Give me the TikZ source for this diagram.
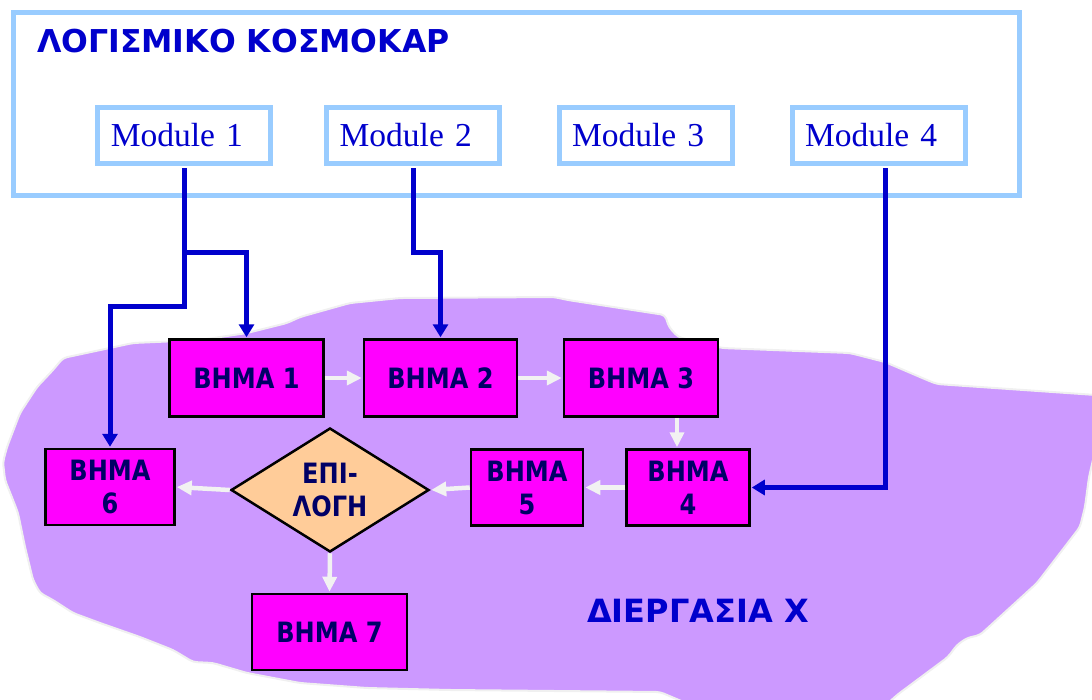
\documentclass[tikz,border=0pt]{standalone}
\usepackage{fontspec}
\setmainfont{Liberation Serif}
\newfontfamily\headfont{DejaVu Sans}
\newfontfamily\stepfont{DejaVu Sans Bold}[FakeStretch=0.86]
\usetikzlibrary{shapes.geometric,arrows.meta}

\definecolor{frameblue}{HTML}{99CCFF}
\definecolor{linkblue}{HTML}{0000CC}
\definecolor{blobfill}{HTML}{CC99FF}
\definecolor{blobedge}{HTML}{F0F0F0}
\definecolor{stepfill}{HTML}{FF00FF}
\definecolor{steptext}{HTML}{000066}
\definecolor{choicefill}{HTML}{FFCC99}
\definecolor{flowwhite}{HTML}{F2F2F2}

\tikzset{
  module/.style={draw=frameblue, line width=5pt, fill=white,
    minimum width=173pt, minimum height=55.5pt,
    text width=147pt, inner xsep=13pt, inner ysep=0pt, align=left,
    text=linkblue, font=\fontsize{33.5}{40}\selectfont},
  stepbox/.style={draw=black, line width=2.5pt, fill=stepfill,
    text=steptext, inner sep=0pt, align=center,
    font=\stepfont\fontsize{28}{33}\selectfont},
  choicebox/.style={diamond, draw=black, line width=2.5pt, fill=choicefill,
    text=steptext, inner sep=0pt, align=center, aspect=1.6,
    minimum width=198pt, minimum height=124pt,
    font=\stepfont\fontsize{28}{33}\selectfont},
  heading/.style={anchor=base west, inner sep=0pt, text=linkblue,
    font=\headfont\bfseries\fontsize{31.5}{36}\selectfont},
  link/.style={draw=linkblue, line width=5pt, shorten <=2.5pt, shorten >=1pt,
    -{Triangle[length=13pt,width=15pt]}},
  flow/.style={draw=flowwhite, line width=4.5pt, shorten >=1pt,
    -{Triangle[length=15pt,width=14pt]}}
}

\begin{document}
\begin{tikzpicture}[x=1pt,y=-1pt]
\useasboundingbox (0,0) rectangle (1092,699);

% software frame
\draw[frameblue, line width=5pt] (13,12.5) rectangle (1019.5,195.5);
\node[heading] (title) at (37,52) {ΛΟΓΙΣΜΙΚΟ ΚΟΣΜΟΚΑΡ};

% process area
\path[fill=blobfill, draw=blobedge, line width=2pt, rounded corners=4pt]
  (7,447) -- (20,413) -- (37,387) -- (53,370) -- (63,358) -- (133,343)
  -- (200,340) -- (247,333) -- (287,323) -- (300,317) -- (350,303)
  -- (400,298) -- (554,297) -- (568,300) -- (665,315) -- (669,327)
  -- (678,337) -- (722,348) -- (850,353) -- (885,362) -- (927,380)
  -- (937,384) -- (1096,395) -- (1096,447) -- (1089,477) -- (1085,507)
  -- (1080,527) -- (1037,583) -- (980,635) -- (967,638) -- (957,645)
  -- (948,657) -- (897,695) -- (885,706) -- (693,706) -- (660,692)
  -- (450,690) -- (367,688) -- (300,683) -- (247,673) -- (213,663)
  -- (193,662) -- (173,650) -- (140,637) -- (100,623) -- (73,613)
  -- (53,600) -- (40,593) -- (33,580) -- (25,547) -- (18,513)
  -- (13,500) -- (5,480) -- (3,462) -- cycle;
\node[heading, font=\headfont\bfseries\fontsize{32}{36}\selectfont]
  (proc) at (587,622) {ΔΙΕΡΓΑΣΙΑ Χ};

% modules
\node[module] (m1) at (184.3,135.3) {Module 1};
\node[module] (m2) at (413.2,135.3) {Module 2};
\node[module] (m3) at (645.6,135.3) {Module 3};
\node[module] (m4) at (878.5,135.3) {Module 4};

% steps
\node[stepbox, minimum width=154pt, minimum height=77pt] (b1) at (246.5,378) {ΒΗΜΑ 1};
\node[stepbox, minimum width=153pt, minimum height=77pt] (b2) at (440.5,378) {ΒΗΜΑ 2};
\node[stepbox, minimum width=154pt, minimum height=77pt] (b3) at (641,378) {ΒΗΜΑ 3};
\node[stepbox, minimum width=123pt, minimum height=76pt] (b4) at (688,487.5) {ΒΗΜΑ\\4};
\node[stepbox, minimum width=112pt, minimum height=76pt] (b5) at (527,487.5) {ΒΗΜΑ\\5};
\node[stepbox, minimum width=129pt, minimum height=76pt] (b6) at (110,487) {ΒΗΜΑ\\6};
\node[stepbox, minimum width=155pt, minimum height=76pt] (b7) at (329.5,632) {ΒΗΜΑ 7};
\node[choicebox] (ch) at (330,490) {ΕΠΙ-\\ΛΟΓΗ};

% flow between steps
\draw[flow] (b1.east) -- (b2.west);
\draw[flow] (b2.east) -- (b3.west);
\draw[flow] ([xshift=36pt]b3.south) -- ([xshift=36pt]b3.south |- b4.north);
\draw[flow] (b4.west) -- (b5.east);
\draw[flow] (b5.west) -- (ch.east);
\draw[flow] (ch.west) -- (b6.east);
\draw[flow] (ch.south) -- (b7.north);

% module links
\coordinate (j1) at (184.3,252);
\coordinate (j1b) at (184.3,306);
\coordinate (j2) at (413.2,252);
\draw[link] (m1.south) -- (j1) -| (b1.north);
\draw[link, shorten <=0pt] (j1) -- (j1b) -| (b6.north);
\draw[link] (m2.south) -- (j2) -| (b2.north);
\draw[link] ([xshift=6.5pt]m4.south) |- (b4.east);
\end{tikzpicture}
\end{document}
